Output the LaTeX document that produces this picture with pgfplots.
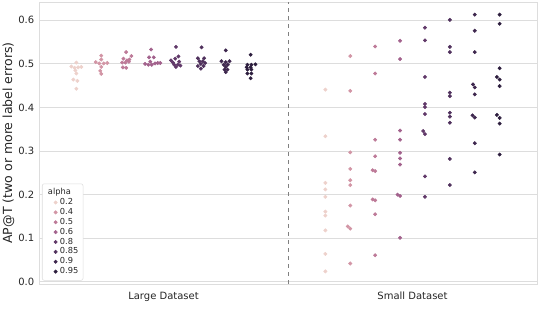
\documentclass[border=0pt]{standalone}
\usepackage{pgfplots}
\pgfplotsset{compat=1.18}
\usepackage{fontspec}
\setmainfont{DejaVu Sans}

% seaborn cubehelix colours, one per alpha level
\definecolor{a20}{HTML}{EDD1CB}
\definecolor{a40}{HTML}{D295A5}
\definecolor{a50}{HTML}{BD7A98}
\definecolor{a60}{HTML}{A2618C}
\definecolor{a80}{HTML}{613969}
\definecolor{a85}{HTML}{4F305C}
\definecolor{a90}{HTML}{3E274E}
\definecolor{a95}{HTML}{2D1E3E}
\definecolor{gridc}{HTML}{DDDDDD}
\definecolor{txt}{HTML}{262626}

\begin{document}
\begin{tikzpicture}
\begin{axis}[
    name=ax,
    scale only axis,
    width=373.5pt, height=211.5pt,
    xmin=-0.5, xmax=1.5,
    ymin=-0.005, ymax=0.642,
    xtick={0,1},
    xticklabels={Large Dataset, Small Dataset},
    xticklabel style={yshift=-2.5pt},
    ytick={0,0.1,0.2,0.3,0.4,0.5,0.6},
    yticklabel style={/pgf/number format/fixed, /pgf/number format/fixed zerofill, /pgf/number format/precision=1},
    /pgf/number format/assume math mode=true,
    ticklabel style={font=\fontsize{7.5}{9}\selectfont, text=txt},
    major tick length=0pt,
    ymajorgrids,
    grid style={gridc, line width=0.6pt},
    axis line style={gridc, line width=0.6pt},
    ylabel={AP@T (two or more label errors)},
    ylabel style={at={(axis description cs:-0.04,0.5)}, anchor=south,
      font=\fontsize{9.4}{11}\selectfont, text=txt},
    legend style={
      at={(0.006,0.012)}, anchor=south west,
      draw=gridc, rounded corners=1.5pt, fill=white,
      font=\fontsize{6.2}{7}\selectfont, text=txt,
      row sep=-2.7pt, inner sep=1.5pt
    },
    legend cell align=left,
    every axis plot/.append style={only marks, mark=*, mark size=1.25pt},
]
\addlegendimage{empty legend}
\addlegendentry{\hspace{-9pt}alpha}

\addplot[a20, mark options={draw=a20, fill=a20}] coordinates {
(-0.350,0.503) (-0.370,0.494) (-0.357,0.491) (-0.343,0.492) (-0.330,0.493)
(-0.354,0.485) (-0.350,0.478) (-0.362,0.464) (-0.346,0.461) (-0.350,0.443)
(0.65,0.441) (0.65,0.334) (0.65,0.227) (0.65,0.212) (0.65,0.195)
(0.65,0.161) (0.65,0.152) (0.65,0.118) (0.65,0.064) (0.65,0.024)
};
\addlegendentry{0.2}

\addplot[a40, mark options={draw=a40, fill=a40}] coordinates {
(-0.250,0.519) (-0.250,0.510) (-0.272,0.504) (-0.258,0.501) (-0.240,0.501)
(-0.226,0.502) (-0.250,0.493) (-0.254,0.484) (-0.250,0.477)
(0.75,0.518) (0.75,0.438) (0.75,0.297) (0.75,0.259) (0.75,0.233)
(0.75,0.222) (0.75,0.175) (0.740,0.127) (0.75,0.122) (0.75,0.042)
};
\addlegendentry{0.4}

\addplot[a50, mark options={draw=a50, fill=a50}] coordinates {
(-0.150,0.527) (-0.161,0.512) (-0.129,0.518) (-0.137,0.510) (-0.166,0.503)
(-0.153,0.503) (-0.139,0.505) (-0.163,0.492) (-0.150,0.491) (-0.147,0.508)
(0.85,0.540) (0.85,0.478) (0.85,0.326) (0.85,0.288) (0.840,0.256)
(0.85,0.254) (0.840,0.189) (0.85,0.187) (0.85,0.155) (0.85,0.061)
};
\addlegendentry{0.5}

\addplot[a60, mark options={draw=a60, fill=a60}] coordinates {
(-0.050,0.533) (-0.058,0.515) (-0.039,0.515) (-0.074,0.500) (-0.061,0.498)
(-0.047,0.498) (-0.034,0.501) (-0.023,0.502) (-0.013,0.502) (-0.053,0.505)
(0.95,0.553) (0.95,0.511) (0.95,0.347) (0.95,0.326) (0.95,0.296)
(0.95,0.283) (0.95,0.269) (0.940,0.200) (0.95,0.197) (0.95,0.101)
};
\addlegendentry{0.6}

\addplot[a80, mark options={draw=a80, fill=a80}] coordinates {
(0.050,0.539) (0.060,0.517) (0.047,0.512) (0.030,0.508) (0.038,0.503)
(0.063,0.505) (0.043,0.498) (0.058,0.498) (0.050,0.493) (0.068,0.496)
(1.05,0.583) (1.05,0.554) (1.05,0.470) (1.05,0.408) (1.05,0.401)
(1.05,0.385) (1.043,0.346) (1.05,0.339) (1.05,0.242) (1.05,0.195)
};
\addlegendentry{0.8}

\addplot[a85, mark options={draw=a85, fill=a85}] coordinates {
(0.153,0.538) (0.138,0.513) (0.163,0.513) (0.144,0.506) (0.158,0.506)
(0.150,0.500) (0.138,0.495) (0.161,0.495) (0.150,0.489) (0.167,0.502)
(1.15,0.601) (1.15,0.539) (1.15,0.527) (1.15,0.434) (1.15,0.426)
(1.15,0.388) (1.15,0.379) (1.15,0.365) (1.15,0.282) (1.15,0.222)
};
\addlegendentry{0.85}

\addplot[a90, mark options={draw=a90, fill=a90}] coordinates {
(0.250,0.531) (0.233,0.506) (0.250,0.504) (0.265,0.506) (0.242,0.498)
(0.258,0.498) (0.250,0.493) (0.245,0.487) (0.257,0.487) (0.250,0.481)
(1.25,0.613) (1.25,0.576) (1.25,0.527) (1.243,0.453) (1.25,0.446)
(1.25,0.430) (1.241,0.382) (1.25,0.377) (1.25,0.318) (1.25,0.251)
};
\addlegendentry{0.9}

\addplot[a95, mark options={draw=a95, fill=a95}] coordinates {
(0.350,0.521) (0.337,0.498) (0.353,0.498) (0.369,0.499) (0.334,0.492)
(0.350,0.492) (0.337,0.487) (0.353,0.487) (0.337,0.478) (0.353,0.478)
(0.350,0.467)
(1.35,0.613) (1.35,0.592) (1.35,0.490) (1.339,0.470) (1.35,0.464)
(1.35,0.449) (1.339,0.383) (1.35,0.376) (1.35,0.363) (1.35,0.292)
};
\addlegendentry{0.95}

% separator between the two datasets
\draw[gray, dashed, line width=0.5pt] (axis cs:0.5,-0.005) -- (axis cs:0.5,0.642);
\end{axis}
\pgfresetboundingbox
\path ([xshift=-29.25pt,yshift=-27pt]ax.south west) rectangle ([xshift=0.75pt,yshift=1.5pt]ax.north east);
\end{tikzpicture}
\end{document}
